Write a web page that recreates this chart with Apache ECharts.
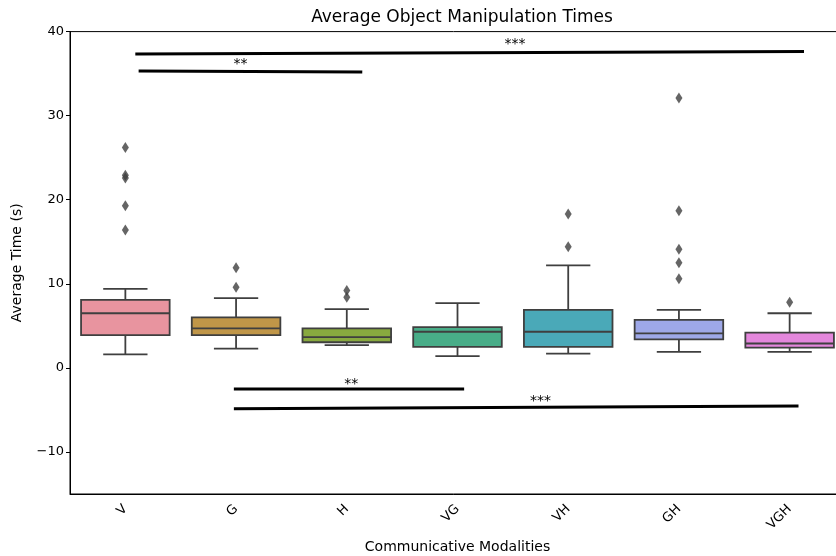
<!DOCTYPE html>
<html>
<head>
<meta charset="utf-8">
<script src="https://cdn.jsdelivr.net/npm/echarts@6/dist/echarts.min.js"></script>
<style>
  html, body { margin: 0; padding: 0; background: #fff; }
  #main { width: 836px; height: 556px; }
</style>
</head>
<body>
<div id="main"></div>
<script>
// modalities on the x axis
var categories = ['V', 'G', 'H', 'VG', 'VH', 'GH', 'VGH'];
var boxColors = ['#e8949f', '#c09648', '#88a93f', '#48ad88', '#4aa9b8', '#9ea8e8', '#e487dc'];

// [min, q1, median, q3, max] per modality
var boxStats = [
  [1.6, 3.9, 6.5, 8.1, 9.4],
  [2.3, 3.9, 4.7, 6.0, 8.3],
  [2.7, 3.05, 3.65, 4.7, 7.0],
  [1.4, 2.5, 4.3, 4.84, 7.7],
  [1.7, 2.5, 4.3, 6.9, 12.2],
  [1.9, 3.4, 4.1, 5.7, 6.9],
  [1.9, 2.4, 2.9, 4.2, 6.5]
];

// fliers: [category index, value]
var outliers = [
  [0, 26.2], [0, 22.9], [0, 22.6], [0, 19.3], [0, 16.4],
  [1, 11.9], [1, 9.6],
  [2, 9.2], [2, 8.4],
  [4, 18.3], [4, 14.4],
  [5, 32.1], [5, 18.7], [5, 14.1], [5, 12.5], [5, 10.6],
  [6, 7.8]
];

// significance bars: [x1, y1, x2, y2] in category units
var sigLines = [
  [0.09, 37.35, 6.13, 37.62],
  [0.12, 35.3, 2.14, 35.2],
  [0.98, -2.5, 3.06, -2.5],
  [0.98, -4.87, 6.08, -4.52]
];
// significance marks: [x, y, text]
var sigMarks = [
  [3.52, 38.5, '***'],
  [1.04, 36.1, '**'],
  [2.04, -1.9, '**'],
  [3.75, -4.0, '***']
];

var yRange = [-15, 40];
var yTickValues = [-10, 0, 10, 20, 30, 40];

var font = 'DejaVu Sans';
var edge = '#3f3f3f';

var chart = echarts.init(document.getElementById('main'));

function renderBox(params, api) {
  var idx = api.value(0);
  var lo = api.coord([idx, api.value(1)]);
  var q1 = api.coord([idx, api.value(2)]);
  var med = api.coord([idx, api.value(3)]);
  var q3 = api.coord([idx, api.value(4)]);
  var hi = api.coord([idx, api.value(5)]);
  var band = api.size([1, 0])[0];
  var w = band * 0.8;
  var cap = w / 2;
  var x = lo[0];
  var ls = { stroke: edge, lineWidth: 1.8 };
  return {
    type: 'group',
    children: [
      { type: 'line', shape: { x1: x, y1: q3[1], x2: x, y2: hi[1] }, style: ls },
      { type: 'line', shape: { x1: x, y1: q1[1], x2: x, y2: lo[1] }, style: ls },
      { type: 'line', shape: { x1: x - cap / 2, y1: hi[1], x2: x + cap / 2, y2: hi[1] }, style: ls },
      { type: 'line', shape: { x1: x - cap / 2, y1: lo[1], x2: x + cap / 2, y2: lo[1] }, style: ls },
      { type: 'rect', shape: { x: x - w / 2, y: q3[1], width: w, height: q1[1] - q3[1] },
        style: { fill: boxColors[idx], stroke: edge, lineWidth: 1.8 } },
      { type: 'line', shape: { x1: x - w / 2, y1: med[1], x2: x + w / 2, y2: med[1] }, style: ls }
    ]
  };
}

var option = {
  animation: false,
  backgroundColor: '#fff',
  title: {
    text: 'Average Object Manipulation Times',
    left: 457, top: 4, textAlign: 'center',
    textStyle: { fontFamily: font, fontSize: 17, fontWeight: 'normal', color: '#000' }
  },
  grid: {
    left: 70, right: -9, top: 31.6, bottom: 62,
    outerBoundsMode: 'none',
    show: true, borderColor: '#000', borderWidth: 1, backgroundColor: 'transparent'
  },
  xAxis: [{
    type: 'category',
    data: categories,
    name: 'Communicative Modalities',
    nameLocation: 'middle',
    nameGap: 46,
    nameTextStyle: { fontFamily: font, fontSize: 14, color: '#000' },
    axisLine: { onZero: false, lineStyle: { color: '#000', width: 1 } },
    axisTick: { alignWithLabel: true, length: 4, lineStyle: { color: '#000' } },
    axisLabel: { rotate: 45, margin: 13, fontFamily: font, fontSize: 13, color: '#000' },
    splitLine: { show: false }
  }, {
    type: 'value', min: -0.5, max: 6.5, show: false
  }],
  yAxis: {
    type: 'value',
    min: yRange[0], max: yRange[1],
    name: 'Average Time (s)',
    nameLocation: 'middle',
    nameGap: 46,
    nameTextStyle: { fontFamily: font, fontSize: 14, color: '#000' },
    axisLine: { show: true, onZero: false, lineStyle: { color: '#000', width: 1 } },
    axisTick: { show: true, length: 4, customValues: yTickValues, lineStyle: { color: '#000' } },
    axisLabel: {
      margin: 6, fontFamily: font, fontSize: 13, color: '#000',
      customValues: yTickValues,
      formatter: function (v) {
        return v < 0 ? '\u2212' + (-v) : String(v);
      }
    },
    splitLine: { show: false }
  },
  series: [{
    type: 'custom',
    renderItem: renderBox,
    encode: { x: 0, y: [1, 2, 3, 4, 5] },
    data: boxStats.map(function (s, i) { return [i].concat(s); }),
    z: 2
  }, {
    type: 'scatter',
    symbol: 'diamond',
    symbolSize: [7, 11],
    itemStyle: { color: edge },
    data: outliers,
    z: 3
  }, {
    type: 'custom',
    xAxisIndex: 1,
    encode: { x: [0, 2], y: [1, 3] },
    renderItem: function (params, api) {
      var a = api.coord([api.value(0), api.value(1)]);
      var b = api.coord([api.value(2), api.value(3)]);
      return { type: 'line', shape: { x1: a[0], y1: a[1], x2: b[0], y2: b[1] },
        style: { stroke: '#000', lineWidth: 3 } };
    },
    data: sigLines,
    z: 4
  }, {
    type: 'custom',
    xAxisIndex: 1,
    encode: { x: 0, y: 1 },
    renderItem: function (params, api) {
      var p = api.coord([api.value(0), api.value(1)]);
      return { type: 'text', x: p[0], y: p[1],
        style: { text: sigMarks[params.dataIndex][2], fill: '#000', align: 'center',
          verticalAlign: 'middle', font: '14px "DejaVu Sans"' } };
    },
    data: sigMarks.map(function (m) { return [m[0], m[1]]; }),
    z: 4
  }]
};

chart.setOption(option);
</script>
</body>
</html>
